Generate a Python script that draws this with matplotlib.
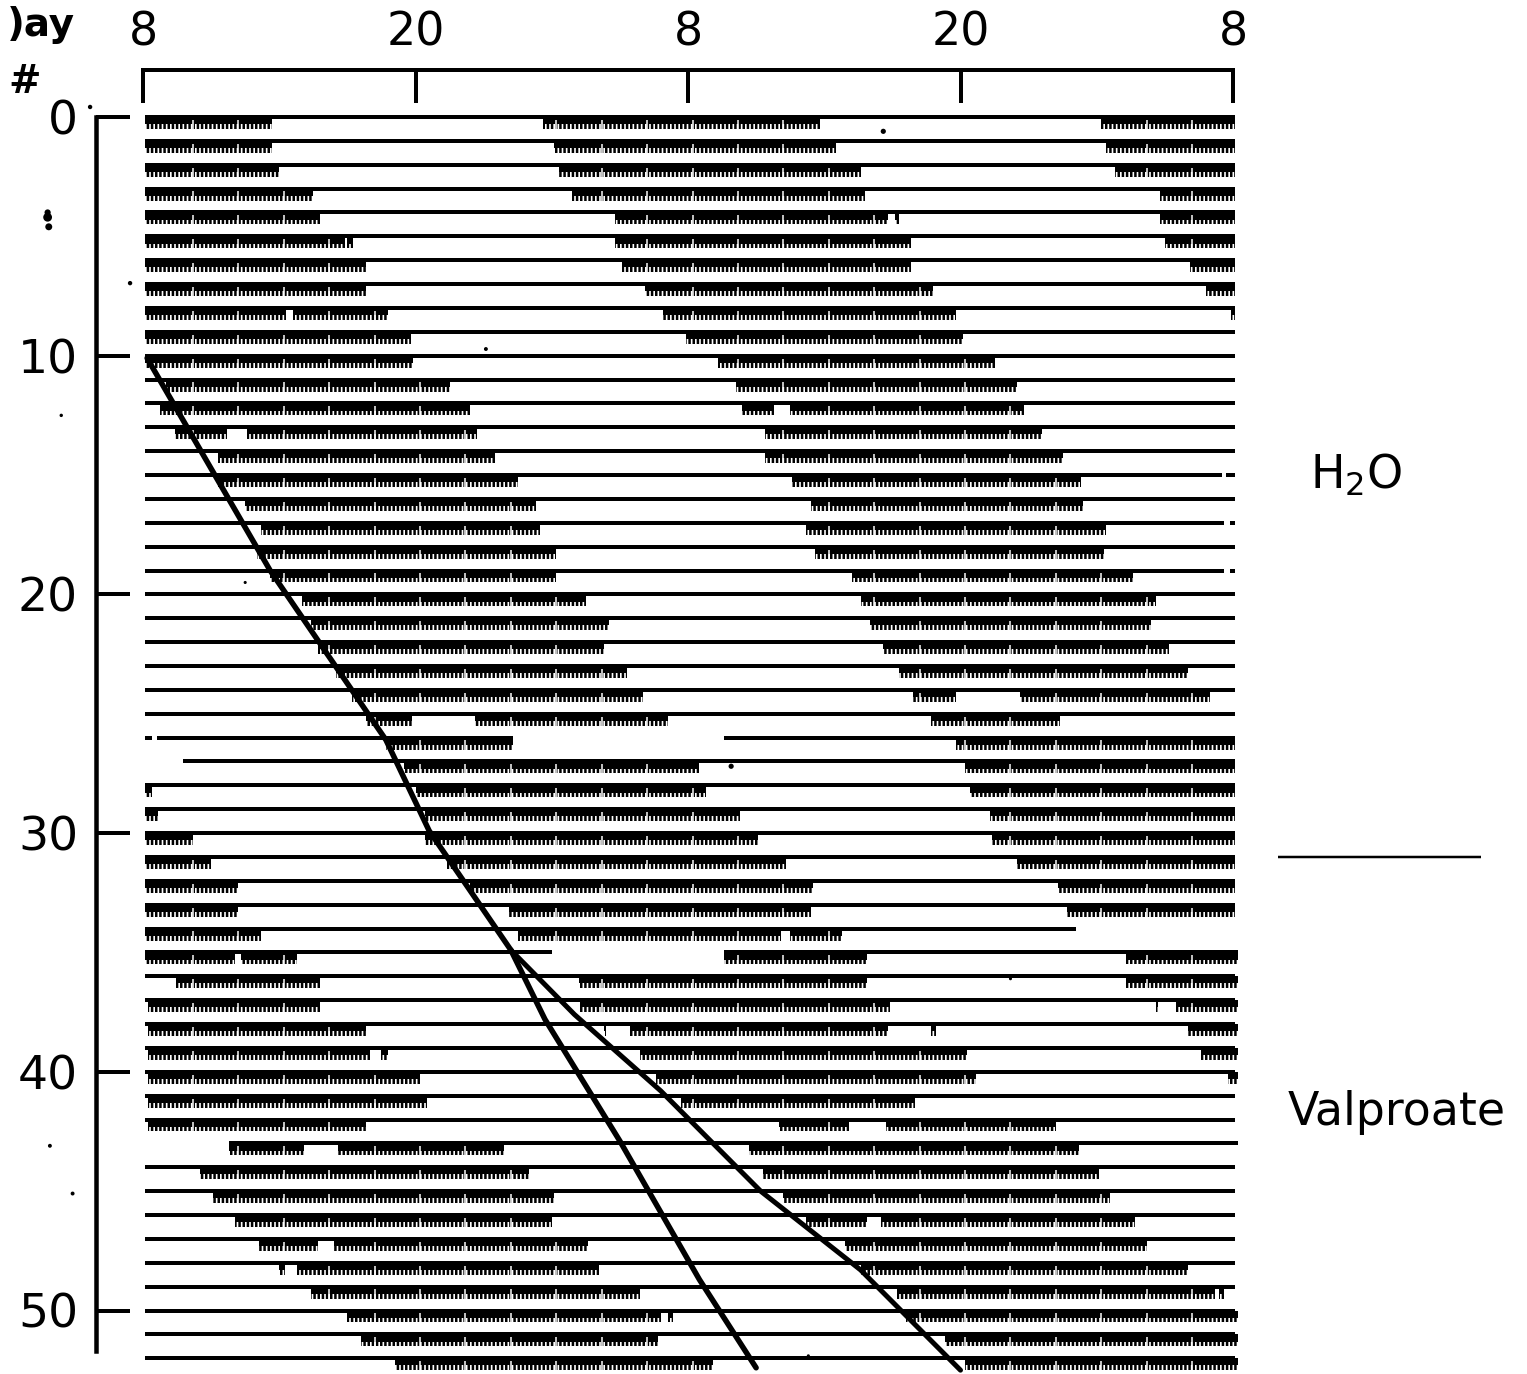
import numpy as np
import matplotlib
matplotlib.use('Agg')
import matplotlib.pyplot as plt

# activity bouts per day, hours after the first 8 o'clock tick
bouts = [
    [(0.1, 5.7), (17.6, 29.8), (42.2, 48.1)],
    [(0.1, 5.7), (18.1, 30.5), (42.4, 48.1)],
    [(0.1, 6.0), (18.3, 31.6), (42.8, 48.1)],
    [(0.1, 7.5), (18.9, 31.8), (44.8, 48.1)],
    [(0.1, 7.8), (20.8, 32.8), (33.1, 33.3), (44.8, 48.1)],
    [(0.1, 8.9), (9.0, 9.25), (20.8, 33.8), (45.0, 48.1)],
    [(0.1, 9.8), (21.1, 33.8), (46.1, 48.1)],
    [(0.1, 9.8), (22.1, 34.8), (46.8, 48.1)],
    [(0.1, 6.3), (6.6, 10.8), (22.9, 35.8), (47.9, 48.1)],
    [(0.1, 11.8), (23.9, 36.1)],
    [(0.1, 11.9), (25.3, 37.5)],
    [(1.0, 13.5), (26.1, 38.5)],
    [(0.75, 14.4), (26.4, 27.8), (28.5, 38.8)],
    [(1.4, 3.7), (4.6, 14.7), (27.4, 39.6)],
    [(3.3, 15.5), (27.4, 40.5)],
    [(3.3, 16.5), (28.6, 41.3)],
    [(4.5, 17.3), (29.4, 41.4)],
    [(5.2, 17.5), (29.2, 42.4)],
    [(5.0, 18.2), (29.6, 42.3)],
    [(5.6, 18.2), (31.2, 43.6)],
    [(7.0, 19.5), (31.6, 44.6)],
    [(7.4, 20.5), (32.0, 44.4)],
    [(7.7, 20.3), (32.6, 45.2)],
    [(8.5, 21.3), (33.3, 46.0)],
    [(9.2, 22.0), (33.9, 35.8), (38.6, 47.0)],
    [(9.8, 11.85), (14.6, 23.1), (34.7, 40.4)],
    [(10.7, 16.3), (35.8, 48.1)],
    [(11.5, 24.5), (36.2, 48.1)],
    [(0.1, 0.4), (12.0, 24.8), (36.4, 48.1)],
    [(0.1, 0.65), (12.4, 26.3), (37.3, 48.1)],
    [(0.1, 2.2), (12.4, 27.1), (37.4, 48.1)],
    [(0.1, 3.0), (13.4, 28.3), (38.5, 48.1)],
    [(0.1, 4.2), (14.4, 29.5), (40.3, 48.1)],
    [(0.1, 4.2), (16.1, 29.4), (40.7, 48.1)],
    [(0.1, 5.2), (16.5, 28.1), (28.5, 30.8)],
    [(0.1, 4.05), (4.3, 6.8), (25.6, 31.9), (43.3, 48.2)],
    [(1.45, 7.8), (19.2, 31.9), (43.3, 48.2)],
    [(0.2, 7.8), (19.25, 32.9), (44.6, 44.7), (45.5, 48.2)],
    [(0.2, 9.8), (20.3, 20.4), (21.45, 32.8), (34.7, 34.9), (46.0, 48.2)],
    [(0.2, 10.0), (10.5, 10.8), (21.9, 36.3), (46.6, 48.2)],
    [(0.2, 12.2), (22.6, 36.7), (47.8, 48.2)],
    [(0.2, 12.5), (23.7, 34.0)],
    [(0.2, 9.8), (28.0, 31.1), (32.7, 40.2)],
    [(3.8, 7.1), (8.6, 15.9), (26.7, 41.2)],
    [(2.5, 17.0), (27.3, 42.1)],
    [(3.1, 18.1), (28.2, 42.6)],
    [(4.05, 18.0), (29.2, 31.9), (32.5, 43.7)],
    [(5.1, 7.7), (8.4, 19.6), (30.9, 44.2)],
    [(6.0, 6.25), (6.8, 20.1), (31.6, 46.0)],
    [(7.4, 21.9), (33.2, 47.2), (47.4, 47.6)],
    [(9.0, 22.8), (23.1, 23.35), (33.6, 48.2)],
    [(9.6, 22.7), (35.3, 48.2)],
    [(11.1, 25.1), (36.2, 48.2)],
]

# rows whose base line is not the full width
baseline_default = [(0.1, 48.1)]
baseline_special = {
    15: [(0.1, 47.5), (47.7, 48.1)],
    17: [(0.1, 47.6), (47.85, 48.1)],
    19: [(0.1, 47.6), (47.85, 48.1)],
    26: [(0.1, 0.4), (0.6, 16.3), (25.6, 48.1)],
    27: [(1.75, 48.1)],
    34: [(0.1, 41.1)],
    35: [(0.1, 18.0), (25.6, 48.2)],
    43: [(3.8, 48.2)],
}

main_h = [0.18, 5.6, 10.7, 12.6, 14.4, 16.2]
main_d = [10.1, 19.0, 26.1, 29.9, 32.4, 34.9]
branch1_h = [16.2, 17.7, 21.0, 24.5, 27.0]
branch1_d = [34.9, 37.8, 42.9, 48.7, 52.4]
branch2_h = [16.2, 19.0, 22.8, 27.2, 31.6, 36.0]
branch2_d = [34.9, 37.6, 40.8, 45.0, 48.3, 52.5]

hour_ticks = [0, 12, 24, 36, 48]
hour_labels = ['8', '20', '8', '20', '8']
day_ticks = [0, 10, 20, 30, 40, 50]

# dirt on the scan
speck_h = [-2.33, 32.6, -0.57, 15.1, -3.6, 4.5, 25.9, 38.2, -4.1, -3.1, 29.3, -4.2, -4.2, -4.15]
speck_d = [-0.42, 0.6, 6.96, 9.72, 12.5, 19.5, 27.2, 36.1, 43.1, 45.1, 51.9, 4.2, 4.0, 4.6]
speck_s = [10, 14, 10, 8, 6, 5, 14, 5, 8, 8, 5, 40, 20, 25]

W, H = 1527, 1374
px = 72 / 100  # points per pixel at dpi 100

plt.rcParams['hatch.linewidth'] = 1.8
plt.rcParams['font.family'] = ['DejaVu Sans']

fig = plt.figure(figsize=(W / 100, H / 100), dpi=100)
ax = fig.add_axes([143 / W, 0, (1233 - 143) / W, (H - 117) / H])
ax.set_xlim(0, 48)
ax.set_ylim((H - 117) / 23.87, 0)

for d, row in enumerate(bouts):
    ranges = [(a, b - a) for a, b in row]
    ax.broken_barh(ranges, (d, 0.3), facecolors='black', linewidth=0, clip_on=False)
    ax.broken_barh(ranges, (d, 0.5), facecolors='none', edgecolors='black',
                   hatch='||||', linewidth=0, clip_on=False)
    # deeper notches every two hours
    for a, b in row:
        notch = np.arange(0.2, 49, 2.0)
        notch = notch[(notch > a + 0.3) & (notch < b - 0.3)]
        ax.vlines(notch, d + 0.12, d + 0.52, color='white', lw=1.5 * px, clip_on=False)
    for a, b in baseline_special.get(d, baseline_default):
        ax.hlines(d, a, b, color='black', lw=4 * px, clip_on=False)

for h, d, lw in [(main_h, main_d, 5.5), (branch1_h, branch1_d, 5.5), (branch2_h, branch2_d, 5)]:
    ax.plot(h, d, color='black', lw=lw * px, clip_on=False, solid_capstyle='round')

ax.scatter(speck_h, speck_d, s=speck_s, color='black', linewidths=0, clip_on=False)

# bracket axes set off from the record
for side in ['right', 'bottom']:
    ax.spines[side].set_visible(False)
ax.spines['top'].set_position(('outward', 47 * px))
ax.spines['left'].set_position(('outward', 47 * px))
ax.spines['top'].set_linewidth(4 * px)
ax.spines['left'].set_linewidth(4.5 * px)
ax.spines['top'].set_bounds(0, 48)
ax.spines['left'].set_bounds(0, 51.7)

ax.xaxis.tick_top()
ax.set_xticks(hour_ticks)
ax.set_xticklabels(hour_labels)
ax.set_yticks(day_ticks)
ax.tick_params(axis='x', direction='in', length=33 * px, width=4 * px, pad=15 * px, labelsize=33)
ax.tick_params(axis='y', direction='in', length=34 * px, width=4 * px, pad=18 * px, labelsize=34)

ax.text(51.4, 15.0, 'H$_2$O', fontsize=33, ha='left', va='center')
ax.hlines(31.0, 50.0, 58.9, color='black', lw=2.5 * px, clip_on=False)
ax.text(50.4, 41.7, 'Valproate', fontsize=33, ha='left', va='center')

ax.text(-6.0, -3.85, ')ay', fontsize=28, fontweight='bold', ha='left', va='center')
ax.text(-5.95, -1.45, '#', fontsize=28, fontweight='bold', ha='left', va='center')

fig.savefig('out.png', dpi=100)
plt.close(fig)
